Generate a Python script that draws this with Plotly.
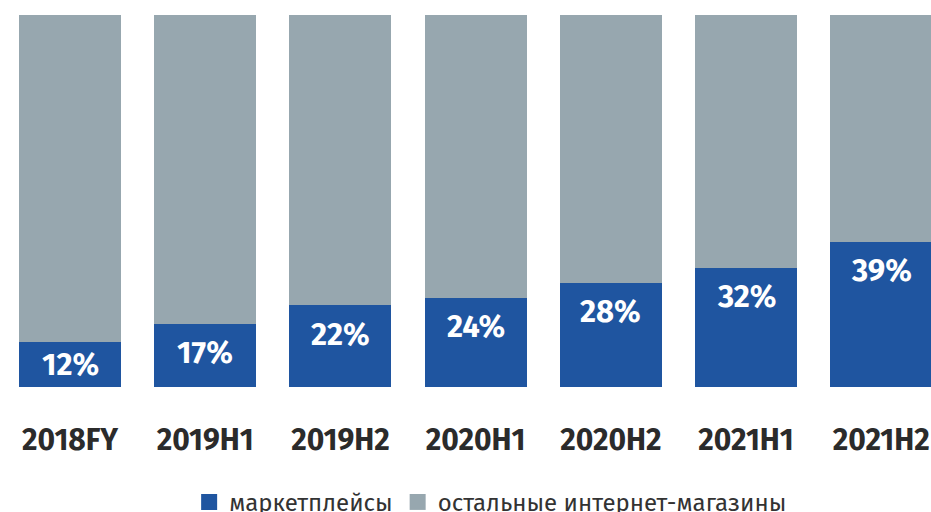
import plotly.graph_objects as go

categories = ["2018FY", "2019H1", "2019H2", "2020H1", "2020H2", "2021H1", "2021H2"]
marketplaces = [12, 17, 22, 24, 28, 32, 39]
others = [100 - v for v in marketplaces]
series_names = ["маркетплейсы", "остальные интернет-магазины"]

BLUE = "#1F55A0"
GRAY = "#97A7AF"
FONT = "Fira Sans, Roboto, Open Sans, sans-serif"

fig = go.Figure()
fig.add_trace(go.Bar(x=categories, y=marketplaces, name=series_names[0], showlegend=False,
                     marker=dict(color=BLUE, line=dict(width=0))))
fig.add_trace(go.Bar(x=categories, y=others, name=series_names[1], showlegend=False,
                     marker=dict(color=GRAY, line=dict(width=0))))
# legend entries with larger square swatches
for name, col in zip(series_names, [BLUE, GRAY]):
    fig.add_trace(go.Scatter(x=[None], y=[None], mode="markers", name=name,
                             marker=dict(symbol="square", size=16, color=col)))

PLOT_H = 372
for c, v in zip(categories, marketplaces):
    hpx = v / 100 * PLOT_H
    shift = -min(hpx / 2, 29)
    fig.add_annotation(x=c, y=v, text=f"{v}%", showarrow=False,
                       yanchor="middle", yshift=shift,
                       font=dict(family=FONT, size=31, color="white", weight="bold"))

fig.update_layout(
    width=931, height=512,
    margin=dict(l=0, r=0, t=15, b=125, autoexpand=False),
    barmode="stack", bargap=0.246,
    paper_bgcolor="white", plot_bgcolor="white",
    showlegend=True,
    legend=dict(orientation="h", xanchor="center", x=0.527, yanchor="middle", y=-0.31,
                font=dict(family=FONT, size=24, color="#333333"),
                itemsizing="trace", traceorder="normal", itemwidth=30),
    xaxis=dict(range=[-0.518, 6.368], showgrid=False, zeroline=False, showline=False,
               ticks="outside", ticklen=26, tickcolor="rgba(0,0,0,0)",
               tickfont=dict(family=FONT, size=30, color="#2B2B2B", weight="bold")),
    yaxis=dict(range=[0, 100], visible=False, showgrid=False, zeroline=False),
)

fig.write_html("out.html")
